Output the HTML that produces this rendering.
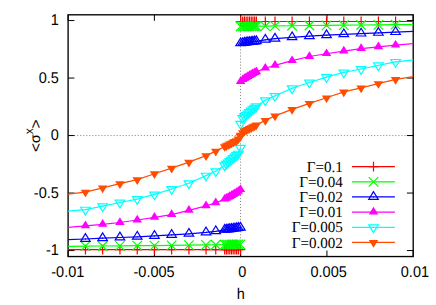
<!DOCTYPE html>
<html><head><meta charset="utf-8"><title>plot</title>
<style>html,body{margin:0;padding:0;background:#fff;}svg{display:block;}text{text-rendering:geometricPrecision;}
.s{font-family:"Liberation Sans",sans-serif;font-size:15.5px;fill:#000;}
.t{font-family:"Liberation Serif",serif;font-size:15.3px;fill:#000;}
</style></head><body>
<svg width="436" height="305" viewBox="0 0 436 305">
<rect width="436" height="305" fill="#fff"/>
<path d="M68.1 135.55H413.2M240.52 256.55V14.8" stroke="#666" stroke-width="0.8" stroke-dasharray="1.05 1.98" fill="none"/>
<path d="M68.10 256.55v-6M68.10 14.8v6M154.38 256.55v-6M154.38 14.8v6M240.65 256.55v-6M240.65 14.8v6M326.93 256.55v-6M326.93 14.8v6M413.20 256.55v-6M413.20 14.8v6M68.1 250.55h6.3M413.2 250.55h-6.3M68.1 193.05h6.3M413.2 193.05h-6.3M68.1 135.55h6.3M413.2 135.55h-6.3M68.1 78.05h6.3M413.2 78.05h-6.3M68.1 20.55h6.3M413.2 20.55h-6.3" stroke="#000" stroke-width="1" fill="none"/>
<rect x="68.1" y="14.8" width="345.10" height="241.75" fill="none" stroke="#000" stroke-width="1.35"/>
<text class="s" transform="translate(58.8,255.40) scale(0.935,1)" text-anchor="end">-1</text>
<text class="s" transform="translate(58.8,197.90) scale(0.935,1)" text-anchor="end">-0.5</text>
<text class="s" transform="translate(58.8,140.40) scale(0.935,1)" text-anchor="end">0</text>
<text class="s" transform="translate(58.8,82.90) scale(0.935,1)" text-anchor="end">0.5</text>
<text class="s" transform="translate(58.8,25.40) scale(0.935,1)" text-anchor="end">1</text>
<text class="s" transform="translate(67.80,277.0) scale(0.935,1)" text-anchor="middle">-0.01</text>
<text class="s" transform="translate(154.07,277.0) scale(0.935,1)" text-anchor="middle">-0.005</text>
<text class="s" transform="translate(242.35,277.0) scale(0.935,1)" text-anchor="middle">0</text>
<text class="s" transform="translate(328.63,277.0) scale(0.935,1)" text-anchor="middle">0.005</text>
<text class="s" transform="translate(414.90,277.0) scale(0.935,1)" text-anchor="middle">0.01</text>
<text class="s" transform="translate(240.7,299.2) scale(0.935,1)" text-anchor="middle">h</text>
<g transform="translate(40.2,151.9) rotate(-90)"><text class="s" x="-0.2" y="0.6">&lt;</text><text class="s" x="8.9" y="-0.2" style="font-size:14.2px">σ</text><text class="s" x="17.6" y="-7.4" style="font-size:12px">x</text><text class="s" x="23.3" y="0.6">&gt;</text></g>
<text class="t" transform="translate(342.9,171.80) scale(0.985,1)" text-anchor="end">Γ=0.1</text>
<path d="M352 166.65H394.9" stroke="#ff0000" stroke-width="1.2" fill="none"/>
<path d="M68.10 249.60L85.44 249.60L102.64 249.60L119.94 249.60L137.24 249.60L154.49 249.60L171.64 249.60L188.94 249.60L206.04 249.60L215.74 249.60L224.66 249.60L226.37 249.60L228.08 249.60L229.79 249.60L231.50 249.60L233.21 249.60L234.92 249.60L236.63 249.60L238.34 249.60L240.44 249.60M240.60 21.50L242.70 21.50L244.41 21.50L246.12 21.50L247.83 21.50L249.54 21.50L251.25 21.50L252.96 21.50L254.67 21.50L256.38 21.50L265.30 21.50L275.00 21.50L292.10 21.50L309.40 21.50L326.55 21.50L343.80 21.50L361.10 21.50L378.40 21.50L395.60 21.50L413.20 21.50" stroke="#ff0000" stroke-width="1.2" fill="none" stroke-linejoin="round"/>
<path d="M85.44 244.70V254.50M80.54 249.60H90.34" stroke="#ff0000" stroke-width="1.2" fill="none"/>
<path d="M102.64 244.70V254.50M97.74 249.60H107.54" stroke="#ff0000" stroke-width="1.2" fill="none"/>
<path d="M119.94 244.70V254.50M115.04 249.60H124.84" stroke="#ff0000" stroke-width="1.2" fill="none"/>
<path d="M137.24 244.70V254.50M132.34 249.60H142.14" stroke="#ff0000" stroke-width="1.2" fill="none"/>
<path d="M154.49 244.70V254.50M149.59 249.60H159.39" stroke="#ff0000" stroke-width="1.2" fill="none"/>
<path d="M171.64 244.70V254.50M166.74 249.60H176.54" stroke="#ff0000" stroke-width="1.2" fill="none"/>
<path d="M188.94 244.70V254.50M184.04 249.60H193.84" stroke="#ff0000" stroke-width="1.2" fill="none"/>
<path d="M206.04 244.70V254.50M201.14 249.60H210.94" stroke="#ff0000" stroke-width="1.2" fill="none"/>
<path d="M215.74 244.70V254.50M210.84 249.60H220.64" stroke="#ff0000" stroke-width="1.2" fill="none"/>
<path d="M224.66 244.70V254.50M219.76 249.60H229.56" stroke="#ff0000" stroke-width="1.2" fill="none"/>
<path d="M226.37 244.70V254.50M221.47 249.60H231.27" stroke="#ff0000" stroke-width="1.2" fill="none"/>
<path d="M228.08 244.70V254.50M223.18 249.60H232.98" stroke="#ff0000" stroke-width="1.2" fill="none"/>
<path d="M229.79 244.70V254.50M224.89 249.60H234.69" stroke="#ff0000" stroke-width="1.2" fill="none"/>
<path d="M231.50 244.70V254.50M226.60 249.60H236.40" stroke="#ff0000" stroke-width="1.2" fill="none"/>
<path d="M233.21 244.70V254.50M228.31 249.60H238.11" stroke="#ff0000" stroke-width="1.2" fill="none"/>
<path d="M234.92 244.70V254.50M230.02 249.60H239.82" stroke="#ff0000" stroke-width="1.2" fill="none"/>
<path d="M236.63 244.70V254.50M231.73 249.60H241.53" stroke="#ff0000" stroke-width="1.2" fill="none"/>
<path d="M238.34 244.70V254.50M233.44 249.60H243.24" stroke="#ff0000" stroke-width="1.2" fill="none"/>
<path d="M240.44 244.70V254.50M235.54 249.60H245.34" stroke="#ff0000" stroke-width="1.2" fill="none"/>
<path d="M240.60 16.60V26.40M235.70 21.50H245.50" stroke="#ff0000" stroke-width="1.2" fill="none"/>
<path d="M242.70 16.60V26.40M237.80 21.50H247.60" stroke="#ff0000" stroke-width="1.2" fill="none"/>
<path d="M244.41 16.60V26.40M239.51 21.50H249.31" stroke="#ff0000" stroke-width="1.2" fill="none"/>
<path d="M246.12 16.60V26.40M241.22 21.50H251.02" stroke="#ff0000" stroke-width="1.2" fill="none"/>
<path d="M247.83 16.60V26.40M242.93 21.50H252.73" stroke="#ff0000" stroke-width="1.2" fill="none"/>
<path d="M249.54 16.60V26.40M244.64 21.50H254.44" stroke="#ff0000" stroke-width="1.2" fill="none"/>
<path d="M251.25 16.60V26.40M246.35 21.50H256.15" stroke="#ff0000" stroke-width="1.2" fill="none"/>
<path d="M252.96 16.60V26.40M248.06 21.50H257.86" stroke="#ff0000" stroke-width="1.2" fill="none"/>
<path d="M254.67 16.60V26.40M249.77 21.50H259.57" stroke="#ff0000" stroke-width="1.2" fill="none"/>
<path d="M256.38 16.60V26.40M251.48 21.50H261.28" stroke="#ff0000" stroke-width="1.2" fill="none"/>
<path d="M265.30 16.60V26.40M260.40 21.50H270.20" stroke="#ff0000" stroke-width="1.2" fill="none"/>
<path d="M275.00 16.60V26.40M270.10 21.50H279.90" stroke="#ff0000" stroke-width="1.2" fill="none"/>
<path d="M292.10 16.60V26.40M287.20 21.50H297.00" stroke="#ff0000" stroke-width="1.2" fill="none"/>
<path d="M309.40 16.60V26.40M304.50 21.50H314.30" stroke="#ff0000" stroke-width="1.2" fill="none"/>
<path d="M326.55 16.60V26.40M321.65 21.50H331.45" stroke="#ff0000" stroke-width="1.2" fill="none"/>
<path d="M343.80 16.60V26.40M338.90 21.50H348.70" stroke="#ff0000" stroke-width="1.2" fill="none"/>
<path d="M361.10 16.60V26.40M356.20 21.50H366.00" stroke="#ff0000" stroke-width="1.2" fill="none"/>
<path d="M378.40 16.60V26.40M373.50 21.50H383.30" stroke="#ff0000" stroke-width="1.2" fill="none"/>
<path d="M395.60 16.60V26.40M390.70 21.50H400.50" stroke="#ff0000" stroke-width="1.2" fill="none"/>
<path d="M373.50 161.75V171.55M368.60 166.65H378.40" stroke="#ff0000" stroke-width="1.2" fill="none"/>
<text class="t" transform="translate(342.9,186.96) scale(0.985,1)" text-anchor="end">Γ=0.04</text>
<path d="M352 181.81H394.9" stroke="#00ff00" stroke-width="1.2" fill="none"/>
<path d="M68.10 246.30L85.44 246.15L102.64 246.00L119.94 245.85L137.24 245.70L154.49 245.55L171.64 245.35L188.94 245.10L206.04 244.90L215.74 244.75L224.66 244.65L226.37 244.62L228.08 244.58L229.79 244.55L231.50 244.52L233.21 244.48L234.92 244.45L236.63 244.43L238.34 244.40L240.44 244.35M240.60 26.50L242.70 26.45L244.41 26.42L246.12 26.40L247.83 26.37L249.54 26.33L251.25 26.30L252.96 26.27L254.67 26.23L256.38 26.20L265.30 26.10L275.00 25.95L292.10 25.75L309.40 25.50L326.55 25.30L343.80 25.15L361.10 25.00L378.40 24.85L395.60 24.70L413.20 24.55" stroke="#00ff00" stroke-width="1.2" fill="none" stroke-linejoin="round"/>
<path d="M80.69 241.40L90.19 250.90M80.69 250.90L90.19 241.40" stroke="#00ff00" stroke-width="1.2" fill="none"/>
<path d="M97.89 241.25L107.39 250.75M97.89 250.75L107.39 241.25" stroke="#00ff00" stroke-width="1.2" fill="none"/>
<path d="M115.19 241.10L124.69 250.60M115.19 250.60L124.69 241.10" stroke="#00ff00" stroke-width="1.2" fill="none"/>
<path d="M132.49 240.95L141.99 250.45M132.49 250.45L141.99 240.95" stroke="#00ff00" stroke-width="1.2" fill="none"/>
<path d="M149.74 240.80L159.24 250.30M149.74 250.30L159.24 240.80" stroke="#00ff00" stroke-width="1.2" fill="none"/>
<path d="M166.89 240.60L176.39 250.10M166.89 250.10L176.39 240.60" stroke="#00ff00" stroke-width="1.2" fill="none"/>
<path d="M184.19 240.35L193.69 249.85M184.19 249.85L193.69 240.35" stroke="#00ff00" stroke-width="1.2" fill="none"/>
<path d="M201.29 240.15L210.79 249.65M201.29 249.65L210.79 240.15" stroke="#00ff00" stroke-width="1.2" fill="none"/>
<path d="M210.99 240.00L220.49 249.50M210.99 249.50L220.49 240.00" stroke="#00ff00" stroke-width="1.2" fill="none"/>
<path d="M219.91 239.90L229.41 249.40M219.91 249.40L229.41 239.90" stroke="#00ff00" stroke-width="1.2" fill="none"/>
<path d="M221.62 239.87L231.12 249.37M221.62 249.37L231.12 239.87" stroke="#00ff00" stroke-width="1.2" fill="none"/>
<path d="M223.33 239.83L232.83 249.33M223.33 249.33L232.83 239.83" stroke="#00ff00" stroke-width="1.2" fill="none"/>
<path d="M225.04 239.80L234.54 249.30M225.04 249.30L234.54 239.80" stroke="#00ff00" stroke-width="1.2" fill="none"/>
<path d="M226.75 239.77L236.25 249.27M226.75 249.27L236.25 239.77" stroke="#00ff00" stroke-width="1.2" fill="none"/>
<path d="M228.46 239.73L237.96 249.23M228.46 249.23L237.96 239.73" stroke="#00ff00" stroke-width="1.2" fill="none"/>
<path d="M230.17 239.70L239.67 249.20M230.17 249.20L239.67 239.70" stroke="#00ff00" stroke-width="1.2" fill="none"/>
<path d="M231.88 239.68L241.38 249.18M231.88 249.18L241.38 239.68" stroke="#00ff00" stroke-width="1.2" fill="none"/>
<path d="M233.59 239.65L243.09 249.15M233.59 249.15L243.09 239.65" stroke="#00ff00" stroke-width="1.2" fill="none"/>
<path d="M235.69 239.60L245.19 249.10M235.69 249.10L245.19 239.60" stroke="#00ff00" stroke-width="1.2" fill="none"/>
<path d="M235.85 21.75L245.35 31.25M235.85 31.25L245.35 21.75" stroke="#00ff00" stroke-width="1.2" fill="none"/>
<path d="M237.95 21.70L247.45 31.20M237.95 31.20L247.45 21.70" stroke="#00ff00" stroke-width="1.2" fill="none"/>
<path d="M239.66 21.67L249.16 31.17M239.66 31.17L249.16 21.67" stroke="#00ff00" stroke-width="1.2" fill="none"/>
<path d="M241.37 21.65L250.87 31.15M241.37 31.15L250.87 21.65" stroke="#00ff00" stroke-width="1.2" fill="none"/>
<path d="M243.08 21.62L252.58 31.12M243.08 31.12L252.58 21.62" stroke="#00ff00" stroke-width="1.2" fill="none"/>
<path d="M244.79 21.58L254.29 31.08M244.79 31.08L254.29 21.58" stroke="#00ff00" stroke-width="1.2" fill="none"/>
<path d="M246.50 21.55L256.00 31.05M246.50 31.05L256.00 21.55" stroke="#00ff00" stroke-width="1.2" fill="none"/>
<path d="M248.21 21.52L257.71 31.02M248.21 31.02L257.71 21.52" stroke="#00ff00" stroke-width="1.2" fill="none"/>
<path d="M249.92 21.48L259.42 30.98M249.92 30.98L259.42 21.48" stroke="#00ff00" stroke-width="1.2" fill="none"/>
<path d="M251.63 21.45L261.13 30.95M251.63 30.95L261.13 21.45" stroke="#00ff00" stroke-width="1.2" fill="none"/>
<path d="M260.55 21.35L270.05 30.85M260.55 30.85L270.05 21.35" stroke="#00ff00" stroke-width="1.2" fill="none"/>
<path d="M270.25 21.20L279.75 30.70M270.25 30.70L279.75 21.20" stroke="#00ff00" stroke-width="1.2" fill="none"/>
<path d="M287.35 21.00L296.85 30.50M287.35 30.50L296.85 21.00" stroke="#00ff00" stroke-width="1.2" fill="none"/>
<path d="M304.65 20.75L314.15 30.25M304.65 30.25L314.15 20.75" stroke="#00ff00" stroke-width="1.2" fill="none"/>
<path d="M321.80 20.55L331.30 30.05M321.80 30.05L331.30 20.55" stroke="#00ff00" stroke-width="1.2" fill="none"/>
<path d="M339.05 20.40L348.55 29.90M339.05 29.90L348.55 20.40" stroke="#00ff00" stroke-width="1.2" fill="none"/>
<path d="M356.35 20.25L365.85 29.75M356.35 29.75L365.85 20.25" stroke="#00ff00" stroke-width="1.2" fill="none"/>
<path d="M373.65 20.10L383.15 29.60M373.65 29.60L383.15 20.10" stroke="#00ff00" stroke-width="1.2" fill="none"/>
<path d="M390.85 19.95L400.35 29.45M390.85 29.45L400.35 19.95" stroke="#00ff00" stroke-width="1.2" fill="none"/>
<path d="M368.75 177.06L378.25 186.56M368.75 186.56L378.25 177.06" stroke="#00ff00" stroke-width="1.2" fill="none"/>
<text class="t" transform="translate(342.9,202.12) scale(0.985,1)" text-anchor="end">Γ=0.02</text>
<path d="M352 196.97H394.9" stroke="#0000ff" stroke-width="1.2" fill="none"/>
<path d="M68.10 239.70L85.44 239.00L102.64 238.20L119.94 237.50L137.24 236.80L154.49 235.90L171.64 234.90L188.94 233.80L206.04 232.40L215.74 231.30L224.66 229.80L226.37 229.60L228.08 229.40L229.79 229.20L231.50 229.00L233.21 228.80L234.92 228.55L236.63 228.30L238.34 228.00L240.44 227.70M240.60 43.40L242.70 43.10L244.41 42.80L246.12 42.55L247.83 42.30L249.54 42.10L251.25 41.90L252.96 41.70L254.67 41.50L256.38 41.30L265.30 39.80L275.00 38.70L292.10 37.30L309.40 36.20L326.55 35.20L343.80 34.30L361.10 33.60L378.40 32.90L395.60 32.10L413.20 31.40" stroke="#0000ff" stroke-width="1.2" fill="none" stroke-linejoin="round"/>
<polygon points="85.44,233.68 80.69,241.38 90.19,241.38" fill="none" stroke="#0000ff" stroke-width="1.2"/><circle cx="85.44" cy="239.00" r="0.65" fill="#0000ff"/>
<polygon points="102.64,232.88 97.89,240.58 107.39,240.58" fill="none" stroke="#0000ff" stroke-width="1.2"/><circle cx="102.64" cy="238.20" r="0.65" fill="#0000ff"/>
<polygon points="119.94,232.18 115.19,239.88 124.69,239.88" fill="none" stroke="#0000ff" stroke-width="1.2"/><circle cx="119.94" cy="237.50" r="0.65" fill="#0000ff"/>
<polygon points="137.24,231.48 132.49,239.18 141.99,239.18" fill="none" stroke="#0000ff" stroke-width="1.2"/><circle cx="137.24" cy="236.80" r="0.65" fill="#0000ff"/>
<polygon points="154.49,230.58 149.74,238.28 159.24,238.28" fill="none" stroke="#0000ff" stroke-width="1.2"/><circle cx="154.49" cy="235.90" r="0.65" fill="#0000ff"/>
<polygon points="171.64,229.58 166.89,237.28 176.39,237.28" fill="none" stroke="#0000ff" stroke-width="1.2"/><circle cx="171.64" cy="234.90" r="0.65" fill="#0000ff"/>
<polygon points="188.94,228.48 184.19,236.18 193.69,236.18" fill="none" stroke="#0000ff" stroke-width="1.2"/><circle cx="188.94" cy="233.80" r="0.65" fill="#0000ff"/>
<polygon points="206.04,227.08 201.29,234.78 210.79,234.78" fill="none" stroke="#0000ff" stroke-width="1.2"/><circle cx="206.04" cy="232.40" r="0.65" fill="#0000ff"/>
<polygon points="215.74,225.98 210.99,233.68 220.49,233.68" fill="none" stroke="#0000ff" stroke-width="1.2"/><circle cx="215.74" cy="231.30" r="0.65" fill="#0000ff"/>
<polygon points="224.66,224.48 219.91,232.18 229.41,232.18" fill="none" stroke="#0000ff" stroke-width="1.2"/><circle cx="224.66" cy="229.80" r="0.65" fill="#0000ff"/>
<polygon points="226.37,224.28 221.62,231.98 231.12,231.98" fill="none" stroke="#0000ff" stroke-width="1.2"/><circle cx="226.37" cy="229.60" r="0.65" fill="#0000ff"/>
<polygon points="228.08,224.08 223.33,231.78 232.83,231.78" fill="none" stroke="#0000ff" stroke-width="1.2"/><circle cx="228.08" cy="229.40" r="0.65" fill="#0000ff"/>
<polygon points="229.79,223.88 225.04,231.58 234.54,231.58" fill="none" stroke="#0000ff" stroke-width="1.2"/><circle cx="229.79" cy="229.20" r="0.65" fill="#0000ff"/>
<polygon points="231.50,223.68 226.75,231.38 236.25,231.38" fill="none" stroke="#0000ff" stroke-width="1.2"/><circle cx="231.50" cy="229.00" r="0.65" fill="#0000ff"/>
<polygon points="233.21,223.48 228.46,231.18 237.96,231.18" fill="none" stroke="#0000ff" stroke-width="1.2"/><circle cx="233.21" cy="228.80" r="0.65" fill="#0000ff"/>
<polygon points="234.92,223.23 230.17,230.93 239.67,230.93" fill="none" stroke="#0000ff" stroke-width="1.2"/><circle cx="234.92" cy="228.55" r="0.65" fill="#0000ff"/>
<polygon points="236.63,222.98 231.88,230.68 241.38,230.68" fill="none" stroke="#0000ff" stroke-width="1.2"/><circle cx="236.63" cy="228.30" r="0.65" fill="#0000ff"/>
<polygon points="238.34,222.68 233.59,230.38 243.09,230.38" fill="none" stroke="#0000ff" stroke-width="1.2"/><circle cx="238.34" cy="228.00" r="0.65" fill="#0000ff"/>
<polygon points="240.44,222.38 235.69,230.08 245.19,230.08" fill="none" stroke="#0000ff" stroke-width="1.2"/><circle cx="240.44" cy="227.70" r="0.65" fill="#0000ff"/>
<polygon points="240.60,38.08 235.85,45.77 245.35,45.77" fill="none" stroke="#0000ff" stroke-width="1.2"/><circle cx="240.60" cy="43.40" r="0.65" fill="#0000ff"/>
<polygon points="242.70,37.78 237.95,45.48 247.45,45.48" fill="none" stroke="#0000ff" stroke-width="1.2"/><circle cx="242.70" cy="43.10" r="0.65" fill="#0000ff"/>
<polygon points="244.41,37.48 239.66,45.17 249.16,45.17" fill="none" stroke="#0000ff" stroke-width="1.2"/><circle cx="244.41" cy="42.80" r="0.65" fill="#0000ff"/>
<polygon points="246.12,37.23 241.37,44.92 250.87,44.92" fill="none" stroke="#0000ff" stroke-width="1.2"/><circle cx="246.12" cy="42.55" r="0.65" fill="#0000ff"/>
<polygon points="247.83,36.98 243.08,44.67 252.58,44.67" fill="none" stroke="#0000ff" stroke-width="1.2"/><circle cx="247.83" cy="42.30" r="0.65" fill="#0000ff"/>
<polygon points="249.54,36.78 244.79,44.48 254.29,44.48" fill="none" stroke="#0000ff" stroke-width="1.2"/><circle cx="249.54" cy="42.10" r="0.65" fill="#0000ff"/>
<polygon points="251.25,36.58 246.50,44.27 256.00,44.27" fill="none" stroke="#0000ff" stroke-width="1.2"/><circle cx="251.25" cy="41.90" r="0.65" fill="#0000ff"/>
<polygon points="252.96,36.38 248.21,44.08 257.71,44.08" fill="none" stroke="#0000ff" stroke-width="1.2"/><circle cx="252.96" cy="41.70" r="0.65" fill="#0000ff"/>
<polygon points="254.67,36.18 249.92,43.88 259.42,43.88" fill="none" stroke="#0000ff" stroke-width="1.2"/><circle cx="254.67" cy="41.50" r="0.65" fill="#0000ff"/>
<polygon points="256.38,35.98 251.63,43.67 261.13,43.67" fill="none" stroke="#0000ff" stroke-width="1.2"/><circle cx="256.38" cy="41.30" r="0.65" fill="#0000ff"/>
<polygon points="265.30,34.48 260.55,42.17 270.05,42.17" fill="none" stroke="#0000ff" stroke-width="1.2"/><circle cx="265.30" cy="39.80" r="0.65" fill="#0000ff"/>
<polygon points="275.00,33.38 270.25,41.08 279.75,41.08" fill="none" stroke="#0000ff" stroke-width="1.2"/><circle cx="275.00" cy="38.70" r="0.65" fill="#0000ff"/>
<polygon points="292.10,31.98 287.35,39.67 296.85,39.67" fill="none" stroke="#0000ff" stroke-width="1.2"/><circle cx="292.10" cy="37.30" r="0.65" fill="#0000ff"/>
<polygon points="309.40,30.88 304.65,38.58 314.15,38.58" fill="none" stroke="#0000ff" stroke-width="1.2"/><circle cx="309.40" cy="36.20" r="0.65" fill="#0000ff"/>
<polygon points="326.55,29.88 321.80,37.58 331.30,37.58" fill="none" stroke="#0000ff" stroke-width="1.2"/><circle cx="326.55" cy="35.20" r="0.65" fill="#0000ff"/>
<polygon points="343.80,28.98 339.05,36.67 348.55,36.67" fill="none" stroke="#0000ff" stroke-width="1.2"/><circle cx="343.80" cy="34.30" r="0.65" fill="#0000ff"/>
<polygon points="361.10,28.28 356.35,35.98 365.85,35.98" fill="none" stroke="#0000ff" stroke-width="1.2"/><circle cx="361.10" cy="33.60" r="0.65" fill="#0000ff"/>
<polygon points="378.40,27.58 373.65,35.27 383.15,35.27" fill="none" stroke="#0000ff" stroke-width="1.2"/><circle cx="378.40" cy="32.90" r="0.65" fill="#0000ff"/>
<polygon points="395.60,26.78 390.85,34.48 400.35,34.48" fill="none" stroke="#0000ff" stroke-width="1.2"/><circle cx="395.60" cy="32.10" r="0.65" fill="#0000ff"/>
<polygon points="373.50,191.65 368.75,199.34 378.25,199.34" fill="none" stroke="#0000ff" stroke-width="1.2"/><circle cx="373.50" cy="196.97" r="0.65" fill="#0000ff"/>
<text class="t" transform="translate(342.9,217.28) scale(0.985,1)" text-anchor="end">Γ=0.01</text>
<path d="M352 212.13H394.9" stroke="#ff00ff" stroke-width="1.2" fill="none"/>
<path d="M68.10 227.40L85.44 225.90L102.64 224.30L119.94 222.50L137.24 220.00L154.49 217.35L171.64 214.60L188.94 210.40L206.04 205.80L215.74 202.90L224.66 199.20L226.37 198.35L228.08 197.45L229.79 196.55L231.50 195.60L233.21 194.60L234.92 193.55L236.63 192.50L238.34 191.40L240.44 189.50M240.60 81.60L242.70 79.70L244.41 78.60L246.12 77.55L247.83 76.50L249.54 75.50L251.25 74.55L252.96 73.65L254.67 72.75L256.38 71.90L265.30 68.20L275.00 65.30L292.10 60.70L309.40 56.50L326.55 53.75L343.80 51.10L361.10 48.60L378.40 46.80L395.60 45.20L413.20 43.70" stroke="#ff00ff" stroke-width="1.2" fill="none" stroke-linejoin="round"/>
<polygon points="85.44,220.58 80.69,228.28 90.19,228.28" fill="#ff00ff"/>
<polygon points="102.64,218.98 97.89,226.68 107.39,226.68" fill="#ff00ff"/>
<polygon points="119.94,217.18 115.19,224.88 124.69,224.88" fill="#ff00ff"/>
<polygon points="137.24,214.68 132.49,222.38 141.99,222.38" fill="#ff00ff"/>
<polygon points="154.49,212.03 149.74,219.73 159.24,219.73" fill="#ff00ff"/>
<polygon points="171.64,209.28 166.89,216.98 176.39,216.98" fill="#ff00ff"/>
<polygon points="188.94,205.08 184.19,212.78 193.69,212.78" fill="#ff00ff"/>
<polygon points="206.04,200.48 201.29,208.18 210.79,208.18" fill="#ff00ff"/>
<polygon points="215.74,197.58 210.99,205.28 220.49,205.28" fill="#ff00ff"/>
<polygon points="224.66,193.88 219.91,201.58 229.41,201.58" fill="#ff00ff"/>
<polygon points="226.37,193.03 221.62,200.73 231.12,200.73" fill="#ff00ff"/>
<polygon points="228.08,192.13 223.33,199.83 232.83,199.83" fill="#ff00ff"/>
<polygon points="229.79,191.23 225.04,198.93 234.54,198.93" fill="#ff00ff"/>
<polygon points="231.50,190.28 226.75,197.98 236.25,197.98" fill="#ff00ff"/>
<polygon points="233.21,189.28 228.46,196.98 237.96,196.98" fill="#ff00ff"/>
<polygon points="234.92,188.23 230.17,195.93 239.67,195.93" fill="#ff00ff"/>
<polygon points="236.63,187.18 231.88,194.88 241.38,194.88" fill="#ff00ff"/>
<polygon points="238.34,186.08 233.59,193.78 243.09,193.78" fill="#ff00ff"/>
<polygon points="240.44,184.18 235.69,191.88 245.19,191.88" fill="#ff00ff"/>
<polygon points="240.60,76.28 235.85,83.97 245.35,83.97" fill="#ff00ff"/>
<polygon points="242.70,74.38 237.95,82.08 247.45,82.08" fill="#ff00ff"/>
<polygon points="244.41,73.28 239.66,80.97 249.16,80.97" fill="#ff00ff"/>
<polygon points="246.12,72.23 241.37,79.92 250.87,79.92" fill="#ff00ff"/>
<polygon points="247.83,71.18 243.08,78.88 252.58,78.88" fill="#ff00ff"/>
<polygon points="249.54,70.18 244.79,77.88 254.29,77.88" fill="#ff00ff"/>
<polygon points="251.25,69.23 246.50,76.92 256.00,76.92" fill="#ff00ff"/>
<polygon points="252.96,68.33 248.21,76.03 257.71,76.03" fill="#ff00ff"/>
<polygon points="254.67,67.43 249.92,75.12 259.42,75.12" fill="#ff00ff"/>
<polygon points="256.38,66.58 251.63,74.28 261.13,74.28" fill="#ff00ff"/>
<polygon points="265.30,62.88 260.55,70.58 270.05,70.58" fill="#ff00ff"/>
<polygon points="275.00,59.98 270.25,67.67 279.75,67.67" fill="#ff00ff"/>
<polygon points="292.10,55.38 287.35,63.08 296.85,63.08" fill="#ff00ff"/>
<polygon points="309.40,51.18 304.65,58.88 314.15,58.88" fill="#ff00ff"/>
<polygon points="326.55,48.43 321.80,56.12 331.30,56.12" fill="#ff00ff"/>
<polygon points="343.80,45.78 339.05,53.48 348.55,53.48" fill="#ff00ff"/>
<polygon points="361.10,43.28 356.35,50.98 365.85,50.98" fill="#ff00ff"/>
<polygon points="378.40,41.48 373.65,49.17 383.15,49.17" fill="#ff00ff"/>
<polygon points="395.60,39.88 390.85,47.58 400.35,47.58" fill="#ff00ff"/>
<polygon points="373.50,206.81 368.75,214.50 378.25,214.50" fill="#ff00ff"/>
<text class="t" transform="translate(342.9,232.44) scale(0.985,1)" text-anchor="end">Γ=0.005</text>
<path d="M352 227.29H394.9" stroke="#00ffff" stroke-width="1.2" fill="none"/>
<path d="M68.10 211.20L85.44 209.60L102.64 206.20L119.94 202.50L137.24 199.05L154.49 194.40L171.64 189.00L188.94 183.25L206.04 175.60L215.74 171.20L224.66 165.25L226.37 163.80L228.08 162.35L229.79 160.90L231.50 159.40L233.21 158.00L234.92 156.50L236.63 155.05L238.34 153.60L240.44 147.80M240.60 123.70L242.70 117.90L244.41 116.45L246.12 115.00L247.83 113.50L249.54 112.10L251.25 110.60L252.96 109.15L254.67 107.70L256.38 106.25L265.30 100.30L275.00 95.90L292.10 88.25L309.40 82.50L326.55 77.10L343.80 72.45L361.10 69.00L378.40 65.30L395.60 61.90L413.20 59.80" stroke="#00ffff" stroke-width="1.2" fill="none" stroke-linejoin="round"/>
<polygon points="85.44,214.92 80.69,207.23 90.19,207.23" fill="none" stroke="#00ffff" stroke-width="1.2"/><circle cx="85.44" cy="209.60" r="0.65" fill="#00ffff"/>
<polygon points="102.64,211.52 97.89,203.83 107.39,203.83" fill="none" stroke="#00ffff" stroke-width="1.2"/><circle cx="102.64" cy="206.20" r="0.65" fill="#00ffff"/>
<polygon points="119.94,207.82 115.19,200.13 124.69,200.13" fill="none" stroke="#00ffff" stroke-width="1.2"/><circle cx="119.94" cy="202.50" r="0.65" fill="#00ffff"/>
<polygon points="137.24,204.37 132.49,196.68 141.99,196.68" fill="none" stroke="#00ffff" stroke-width="1.2"/><circle cx="137.24" cy="199.05" r="0.65" fill="#00ffff"/>
<polygon points="154.49,199.72 149.74,192.03 159.24,192.03" fill="none" stroke="#00ffff" stroke-width="1.2"/><circle cx="154.49" cy="194.40" r="0.65" fill="#00ffff"/>
<polygon points="171.64,194.32 166.89,186.63 176.39,186.63" fill="none" stroke="#00ffff" stroke-width="1.2"/><circle cx="171.64" cy="189.00" r="0.65" fill="#00ffff"/>
<polygon points="188.94,188.57 184.19,180.88 193.69,180.88" fill="none" stroke="#00ffff" stroke-width="1.2"/><circle cx="188.94" cy="183.25" r="0.65" fill="#00ffff"/>
<polygon points="206.04,180.92 201.29,173.23 210.79,173.23" fill="none" stroke="#00ffff" stroke-width="1.2"/><circle cx="206.04" cy="175.60" r="0.65" fill="#00ffff"/>
<polygon points="215.74,176.52 210.99,168.83 220.49,168.83" fill="none" stroke="#00ffff" stroke-width="1.2"/><circle cx="215.74" cy="171.20" r="0.65" fill="#00ffff"/>
<polygon points="224.66,170.57 219.91,162.88 229.41,162.88" fill="none" stroke="#00ffff" stroke-width="1.2"/><circle cx="224.66" cy="165.25" r="0.65" fill="#00ffff"/>
<polygon points="226.37,169.12 221.62,161.43 231.12,161.43" fill="none" stroke="#00ffff" stroke-width="1.2"/><circle cx="226.37" cy="163.80" r="0.65" fill="#00ffff"/>
<polygon points="228.08,167.67 223.33,159.98 232.83,159.98" fill="none" stroke="#00ffff" stroke-width="1.2"/><circle cx="228.08" cy="162.35" r="0.65" fill="#00ffff"/>
<polygon points="229.79,166.22 225.04,158.53 234.54,158.53" fill="none" stroke="#00ffff" stroke-width="1.2"/><circle cx="229.79" cy="160.90" r="0.65" fill="#00ffff"/>
<polygon points="231.50,164.72 226.75,157.03 236.25,157.03" fill="none" stroke="#00ffff" stroke-width="1.2"/><circle cx="231.50" cy="159.40" r="0.65" fill="#00ffff"/>
<polygon points="233.21,163.32 228.46,155.63 237.96,155.63" fill="none" stroke="#00ffff" stroke-width="1.2"/><circle cx="233.21" cy="158.00" r="0.65" fill="#00ffff"/>
<polygon points="234.92,161.82 230.17,154.13 239.67,154.13" fill="none" stroke="#00ffff" stroke-width="1.2"/><circle cx="234.92" cy="156.50" r="0.65" fill="#00ffff"/>
<polygon points="236.63,160.37 231.88,152.68 241.38,152.68" fill="none" stroke="#00ffff" stroke-width="1.2"/><circle cx="236.63" cy="155.05" r="0.65" fill="#00ffff"/>
<polygon points="238.34,158.92 233.59,151.23 243.09,151.23" fill="none" stroke="#00ffff" stroke-width="1.2"/><circle cx="238.34" cy="153.60" r="0.65" fill="#00ffff"/>
<polygon points="240.44,153.12 235.69,145.43 245.19,145.43" fill="none" stroke="#00ffff" stroke-width="1.2"/><circle cx="240.44" cy="147.80" r="0.65" fill="#00ffff"/>
<polygon points="240.60,129.02 235.85,121.33 245.35,121.33" fill="none" stroke="#00ffff" stroke-width="1.2"/><circle cx="240.60" cy="123.70" r="0.65" fill="#00ffff"/>
<polygon points="242.70,123.22 237.95,115.53 247.45,115.53" fill="none" stroke="#00ffff" stroke-width="1.2"/><circle cx="242.70" cy="117.90" r="0.65" fill="#00ffff"/>
<polygon points="244.41,121.77 239.66,114.08 249.16,114.08" fill="none" stroke="#00ffff" stroke-width="1.2"/><circle cx="244.41" cy="116.45" r="0.65" fill="#00ffff"/>
<polygon points="246.12,120.32 241.37,112.62 250.87,112.62" fill="none" stroke="#00ffff" stroke-width="1.2"/><circle cx="246.12" cy="115.00" r="0.65" fill="#00ffff"/>
<polygon points="247.83,118.82 243.08,111.12 252.58,111.12" fill="none" stroke="#00ffff" stroke-width="1.2"/><circle cx="247.83" cy="113.50" r="0.65" fill="#00ffff"/>
<polygon points="249.54,117.42 244.79,109.72 254.29,109.72" fill="none" stroke="#00ffff" stroke-width="1.2"/><circle cx="249.54" cy="112.10" r="0.65" fill="#00ffff"/>
<polygon points="251.25,115.92 246.50,108.22 256.00,108.22" fill="none" stroke="#00ffff" stroke-width="1.2"/><circle cx="251.25" cy="110.60" r="0.65" fill="#00ffff"/>
<polygon points="252.96,114.47 248.21,106.78 257.71,106.78" fill="none" stroke="#00ffff" stroke-width="1.2"/><circle cx="252.96" cy="109.15" r="0.65" fill="#00ffff"/>
<polygon points="254.67,113.02 249.92,105.33 259.42,105.33" fill="none" stroke="#00ffff" stroke-width="1.2"/><circle cx="254.67" cy="107.70" r="0.65" fill="#00ffff"/>
<polygon points="256.38,111.57 251.63,103.88 261.13,103.88" fill="none" stroke="#00ffff" stroke-width="1.2"/><circle cx="256.38" cy="106.25" r="0.65" fill="#00ffff"/>
<polygon points="265.30,105.62 260.55,97.92 270.05,97.92" fill="none" stroke="#00ffff" stroke-width="1.2"/><circle cx="265.30" cy="100.30" r="0.65" fill="#00ffff"/>
<polygon points="275.00,101.22 270.25,93.53 279.75,93.53" fill="none" stroke="#00ffff" stroke-width="1.2"/><circle cx="275.00" cy="95.90" r="0.65" fill="#00ffff"/>
<polygon points="292.10,93.57 287.35,85.88 296.85,85.88" fill="none" stroke="#00ffff" stroke-width="1.2"/><circle cx="292.10" cy="88.25" r="0.65" fill="#00ffff"/>
<polygon points="309.40,87.82 304.65,80.12 314.15,80.12" fill="none" stroke="#00ffff" stroke-width="1.2"/><circle cx="309.40" cy="82.50" r="0.65" fill="#00ffff"/>
<polygon points="326.55,82.42 321.80,74.72 331.30,74.72" fill="none" stroke="#00ffff" stroke-width="1.2"/><circle cx="326.55" cy="77.10" r="0.65" fill="#00ffff"/>
<polygon points="343.80,77.77 339.05,70.08 348.55,70.08" fill="none" stroke="#00ffff" stroke-width="1.2"/><circle cx="343.80" cy="72.45" r="0.65" fill="#00ffff"/>
<polygon points="361.10,74.32 356.35,66.62 365.85,66.62" fill="none" stroke="#00ffff" stroke-width="1.2"/><circle cx="361.10" cy="69.00" r="0.65" fill="#00ffff"/>
<polygon points="378.40,70.62 373.65,62.92 383.15,62.92" fill="none" stroke="#00ffff" stroke-width="1.2"/><circle cx="378.40" cy="65.30" r="0.65" fill="#00ffff"/>
<polygon points="395.60,67.22 390.85,59.52 400.35,59.52" fill="none" stroke="#00ffff" stroke-width="1.2"/><circle cx="395.60" cy="61.90" r="0.65" fill="#00ffff"/>
<polygon points="373.50,232.61 368.75,224.92 378.25,224.92" fill="none" stroke="#00ffff" stroke-width="1.2"/><circle cx="373.50" cy="227.29" r="0.65" fill="#00ffff"/>
<text class="t" transform="translate(342.9,247.60) scale(0.985,1)" text-anchor="end">Γ=0.002</text>
<path d="M352 242.45H394.9" stroke="#ff4d00" stroke-width="1.2" fill="none"/>
<path d="M68.10 194.10L85.44 192.05L102.64 187.95L119.94 183.65L137.24 179.60L154.49 173.70L171.64 168.15L188.94 162.15L206.04 155.60L215.74 151.15L224.66 146.50L226.37 145.65L228.08 144.80L229.79 143.90L231.50 143.05L233.21 142.20L234.92 141.35L236.63 140.50L238.34 138.90L240.44 136.40M240.60 135.10L242.70 132.60L244.41 131.00L246.12 130.15L247.83 129.30L249.54 128.45L251.25 127.60L252.96 126.70L254.67 125.85L256.38 125.00L265.30 120.35L275.00 115.90L292.10 109.35L309.40 103.35L326.55 97.80L343.80 91.90L361.10 87.85L378.40 83.55L395.60 79.45L413.20 76.60" stroke="#ff4d00" stroke-width="1.2" fill="none" stroke-linejoin="round"/>
<polygon points="85.44,197.37 80.69,189.68 90.19,189.68" fill="#ff4d00"/>
<polygon points="102.64,193.27 97.89,185.58 107.39,185.58" fill="#ff4d00"/>
<polygon points="119.94,188.97 115.19,181.28 124.69,181.28" fill="#ff4d00"/>
<polygon points="137.24,184.92 132.49,177.23 141.99,177.23" fill="#ff4d00"/>
<polygon points="154.49,179.02 149.74,171.33 159.24,171.33" fill="#ff4d00"/>
<polygon points="171.64,173.47 166.89,165.78 176.39,165.78" fill="#ff4d00"/>
<polygon points="188.94,167.47 184.19,159.78 193.69,159.78" fill="#ff4d00"/>
<polygon points="206.04,160.92 201.29,153.23 210.79,153.23" fill="#ff4d00"/>
<polygon points="215.74,156.47 210.99,148.78 220.49,148.78" fill="#ff4d00"/>
<polygon points="224.66,151.82 219.91,144.13 229.41,144.13" fill="#ff4d00"/>
<polygon points="226.37,150.97 221.62,143.28 231.12,143.28" fill="#ff4d00"/>
<polygon points="228.08,150.12 223.33,142.43 232.83,142.43" fill="#ff4d00"/>
<polygon points="229.79,149.22 225.04,141.53 234.54,141.53" fill="#ff4d00"/>
<polygon points="231.50,148.37 226.75,140.68 236.25,140.68" fill="#ff4d00"/>
<polygon points="233.21,147.52 228.46,139.83 237.96,139.83" fill="#ff4d00"/>
<polygon points="234.92,146.67 230.17,138.98 239.67,138.98" fill="#ff4d00"/>
<polygon points="236.63,145.82 231.88,138.13 241.38,138.13" fill="#ff4d00"/>
<polygon points="238.34,144.22 233.59,136.53 243.09,136.53" fill="#ff4d00"/>
<polygon points="240.44,141.72 235.69,134.03 245.19,134.03" fill="#ff4d00"/>
<polygon points="240.60,140.42 235.85,132.72 245.35,132.72" fill="#ff4d00"/>
<polygon points="242.70,137.92 237.95,130.22 247.45,130.22" fill="#ff4d00"/>
<polygon points="244.41,136.32 239.66,128.62 249.16,128.62" fill="#ff4d00"/>
<polygon points="246.12,135.47 241.37,127.78 250.87,127.78" fill="#ff4d00"/>
<polygon points="247.83,134.62 243.08,126.93 252.58,126.93" fill="#ff4d00"/>
<polygon points="249.54,133.77 244.79,126.07 254.29,126.07" fill="#ff4d00"/>
<polygon points="251.25,132.92 246.50,125.22 256.00,125.22" fill="#ff4d00"/>
<polygon points="252.96,132.02 248.21,124.33 257.71,124.33" fill="#ff4d00"/>
<polygon points="254.67,131.17 249.92,123.47 259.42,123.47" fill="#ff4d00"/>
<polygon points="256.38,130.32 251.63,122.62 261.13,122.62" fill="#ff4d00"/>
<polygon points="265.30,125.67 260.55,117.97 270.05,117.97" fill="#ff4d00"/>
<polygon points="275.00,121.22 270.25,113.53 279.75,113.53" fill="#ff4d00"/>
<polygon points="292.10,114.67 287.35,106.97 296.85,106.97" fill="#ff4d00"/>
<polygon points="309.40,108.67 304.65,100.97 314.15,100.97" fill="#ff4d00"/>
<polygon points="326.55,103.12 321.80,95.42 331.30,95.42" fill="#ff4d00"/>
<polygon points="343.80,97.22 339.05,89.53 348.55,89.53" fill="#ff4d00"/>
<polygon points="361.10,93.17 356.35,85.47 365.85,85.47" fill="#ff4d00"/>
<polygon points="378.40,88.87 373.65,81.17 383.15,81.17" fill="#ff4d00"/>
<polygon points="395.60,84.77 390.85,77.08 400.35,77.08" fill="#ff4d00"/>
<polygon points="373.50,247.77 368.75,240.07 378.25,240.07" fill="#ff4d00"/>
</svg></body></html>
